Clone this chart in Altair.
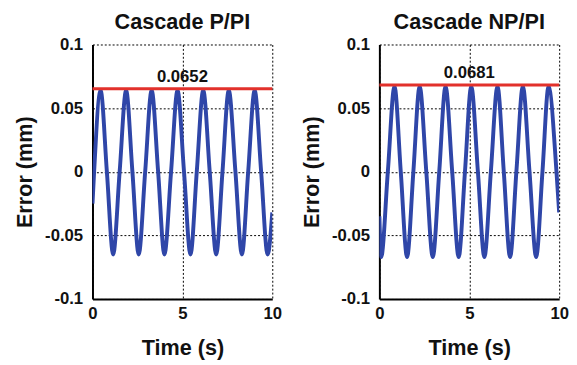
import altair as alt
import pandas as pd

# Left panel: Cascade P/PI  (key points: start, zero crossings, peaks, troughs, end)
t_left = [0.00, 0.09, 0.45, 0.80, 1.15, 1.51, 1.87, 2.22, 2.57, 2.93, 3.29, 3.65, 4.00, 4.37,
          4.73, 5.09, 5.45, 5.80, 6.16, 6.52, 6.88, 7.23, 7.58, 7.95, 8.31, 8.66, 9.02, 9.38,
          9.74, 10.00]
e_left = [-0.025, 0.0, 0.064, 0.0, -0.065, 0.0, 0.064, 0.0, -0.065, 0.0, 0.064, 0.0, -0.065, 0.0,
          0.064, 0.0, -0.065, 0.0, 0.064, 0.0, -0.065, 0.0, 0.064, 0.0, -0.065, 0.0, 0.064, 0.0,
          -0.065, -0.032]

# Right panel: Cascade NP/PI
t_right = [0.00, 0.10, 0.47, 0.84, 1.19, 1.54, 1.89, 2.24, 2.61, 2.97, 3.33, 3.68, 4.05, 4.41,
           4.76, 5.11, 5.48, 5.84, 6.20, 6.57, 6.92, 7.27, 7.62, 7.98, 8.35, 8.72, 9.07, 9.41,
           9.85, 10.00]
e_right = [-0.035, -0.067, 0.0, 0.067, 0.0, -0.067, 0.0, 0.067, 0.0, -0.067, 0.0, 0.067, 0.0, -0.067,
           0.0, 0.067, 0.0, -0.067, 0.0, 0.067, 0.0, -0.067, 0.0, 0.067, 0.0, -0.067, 0.0, 0.067,
           0.0, -0.032]

titles = ["Cascade P/PI", "Cascade NP/PI"]
peak_values = [0.0652, 0.0681]
peak_labels = ["0.0652", "0.0681"]
y_ticks = [-0.1, -0.05, 0, 0.05, 0.1]
x_ticks = [0, 5, 10]

FONT = "Liberation Sans"
BLUE = "#2F46A8"
RED = "#E2312B"


def panel(t, e, title, peak, peak_label):
    df = pd.DataFrame({"t": t, "e": e})
    x = alt.X("t:Q", scale=alt.Scale(domain=[0, 10], nice=False),
              axis=alt.Axis(values=x_ticks, title="Time (s)", format="d",
                            labelPadding=7, titlePadding=17))
    y = alt.Y("e:Q", scale=alt.Scale(domain=[-0.1, 0.1], nice=False),
              axis=alt.Axis(values=y_ticks, title="Error (mm)",
                            labelExpr="toString(datum.value)",
                            labelPadding=10, titlePadding=8))
    line = alt.Chart(df).mark_line(color=BLUE, strokeWidth=4, interpolate="monotone",
                                   clip=True).encode(x=x, y=y)
    pk = pd.DataFrame({"v": [peak], "lab": [peak_label], "xm": [5]})
    rule = alt.Chart(pk).mark_rule(color=RED, strokeWidth=3).encode(y="v:Q")
    text = alt.Chart(pk).mark_text(font=FONT, fontWeight="bold", fontSize=17, dy=-12,
                                   color="#111111").encode(x="xm:Q", y="v:Q", text="lab:N")
    return alt.layer(line, rule, text).properties(
        width=183, height=259,
        title=alt.TitleParams(title, font=FONT, fontSize=22, fontWeight="bold",
                              color="#111111", offset=0, dy=-2))


left = panel(t_left, e_left, titles[0], peak_values[0], peak_labels[0])
right = panel(t_right, e_right, titles[1], peak_values[1], peak_labels[1])

chart = alt.hconcat(left, right, spacing=19).properties(
    padding={"left": 6, "top": 0, "right": 0, "bottom": 0}
).configure_view(stroke=None).configure_axis(
    labelFont=FONT, labelFontSize=17, labelFontWeight="bold", labelColor="#111111",
    titleFont=FONT, titleFontSize=22, titleFontWeight="bold", titleColor="#111111",
    grid=True, gridColor="#000000", gridDash=[2, 2], gridWidth=1, gridOpacity=1,
    domainColor="#000000", domainWidth=2, ticks=False,
    labelFlush=False, labelOverlap=False
)

chart.save("out.html", embed_options={"renderer": "svg", "actions": False})
